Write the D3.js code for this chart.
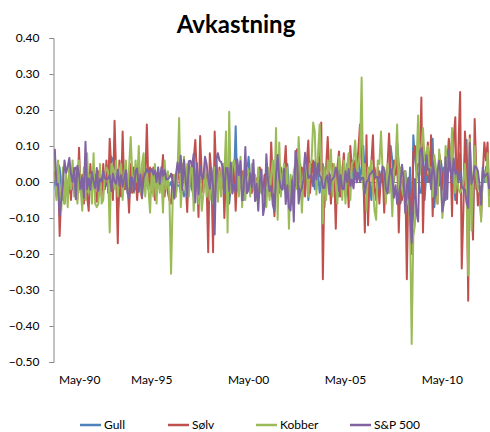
<!DOCTYPE html>
<html>
<head>
<meta charset="utf-8">
<script src="https://cdn.jsdelivr.net/npm/d3@7/dist/d3.min.js"></script>
<style>
  html, body { margin: 0; padding: 0; background: #fff; }
  svg { display: block; }
  text { font-family: Lato, "Open Sans", "Liberation Sans", sans-serif; fill: #000; }
</style>
</head>
<body>
<svg id="chart" width="490" height="432"></svg>
<script>
// Monthly returns, May 1990 – Oct 2012 (one row per year, May..Apr)
const startYear = 1990, startMonth = 4; // May
const tickLabels = ["May-90", "May-95", "May-00", "May-05", "May-10"];
const yTicks = [0.40, 0.30, 0.20, 0.10, 0.00, -0.10, -0.20, -0.30, -0.40, -0.50];
const seriesNames = ["Gull", "Sølv", "Kobber", "S&P 500"];

const gull = [
  0.005, -0.04, 0.05, 0.04, -0.01, -0.05, -0.02, 0.00, -0.03, -0.03, 0.00, -0.02,
  0.00, -0.01, -0.01, -0.02, 0.00, -0.01, 0.00, -0.01, -0.02, -0.02, -0.01, -0.01,
  -0.01, 0.02, 0.00, -0.04, 0.01, -0.02, -0.01, 0.00, -0.01, 0.00, 0.02, 0.07,
  0.06, 0.04, 0.03, -0.085, -0.02, 0.03, 0.00, 0.04, -0.02, -0.01, 0.03, -0.03,
  0.00, 0.01, -0.02, 0.00, 0.02, -0.01, -0.01, 0.00, -0.01, -0.01, 0.02, 0.01,
  -0.01, 0.00, -0.01, -0.01, 0.00, 0.00, 0.00, 0.01, 0.03, 0.02, -0.01, -0.01,
  0.00, -0.02, 0.01, 0.00, -0.01, -0.01, -0.02, -0.02, -0.04, -0.02, 0.03, -0.03,
  0.01, -0.02, -0.04, -0.01, 0.01, -0.05, -0.04, -0.02, 0.00, -0.01, 0.02, 0.00,
  -0.04, 0.00, -0.01, -0.04, 0.07, -0.01, 0.00, -0.02, -0.01, -0.01, -0.01, 0.00,
  -0.06, -0.01, -0.02, 0.00, 0.155, -0.02, -0.02, 0.00, -0.02, -0.05, 0.03, 0.02,
  0.07, 0.01, -0.01, 0.00, -0.03, -0.02, 0.02, 0.02, -0.02, -0.04, 0.02, 0.00,
  0.00, 0.01, -0.03, 0.06, 0.04, -0.02, -0.01, 0.00, 0.00, 0.01, 0.04, 0.01,
  0.05, -0.02, -0.04, 0.01, 0.02, -0.01, 0.09, 0.00, 0.05, -0.05, -0.02, 0.00,
  0.06, -0.05, 0.00, 0.05, 0.04, -0.02, 0.05, 0.03, -0.03, 0.00, 0.05, -0.07,
  0.02, 0.00, 0.00, 0.02, 0.01, 0.03, 0.04, -0.02, -0.04, 0.02, 0.00, 0.00,
  -0.04, 0.05, -0.01, 0.00, 0.06, 0.00, 0.06, 0.04, 0.08, 0.00, 0.04, 0.10,
  0.03, -0.04, 0.00, 0.00, -0.05, 0.02, 0.04, 0.01, 0.00, 0.03, 0.00, 0.02,
  -0.03, -0.01, 0.00, 0.00, 0.10, 0.06, 0.00, 0.05, 0.11, 0.05, -0.06, -0.04,
  0.00, 0.03, 0.00, -0.09, 0.04, -0.19, 0.13, 0.07, 0.03, 0.02, -0.03, -0.03,
  0.09, -0.05, 0.02, 0.00, 0.06, 0.04, 0.12, -0.07, -0.01, 0.03, -0.01, 0.06,
  0.03, -0.05, -0.05, 0.05, 0.05, 0.03, 0.02, 0.02, -0.05, 0.06, 0.01, 0.08,
  -0.01, -0.02, 0.08, 0.117, -0.11, 0.05, 0.02, -0.10, 0.10, -0.02, -0.02, -0.01,
  -0.06, 0.02, 0.00, 0.04, 0.05, -0.03
];

const solv = [
  0.03, -0.02, 0.04, -0.15, -0.03, 0.02, -0.06, 0.01, -0.04, 0.03, -0.05, 0.02,
  -0.02, 0.04, -0.05, 0.095, -0.03, 0.02, -0.06, 0.03, -0.04, -0.08, 0.05, -0.03,
  0.02, -0.03, -0.055, 0.03, 0.02, -0.04, 0.05, -0.02, 0.06, -0.03, 0.12, 0.04,
  -0.05, 0.17, 0.02, -0.17, 0.06, -0.04, 0.14, -0.02, 0.03, 0.00, -0.085, 0.05,
  -0.03, 0.04, 0.02, -0.05, 0.03, -0.02, -0.045, 0.05, 0.00, 0.16, -0.02, 0.04,
  -0.03, 0.04, -0.05, 0.02, 0.03, -0.02, 0.01, 0.075, -0.04, 0.02, -0.03, -0.05,
  -0.06, 0.02, 0.00, -0.04, 0.03, 0.01, -0.03, 0.05, 0.02, 0.00, -0.083, 0.05,
  0.03, -0.02, 0.06, 0.117, 0.02, -0.097, 0.128, 0.02, -0.03, 0.04, 0.00, -0.195,
  0.08, 0.02, -0.195, 0.14, 0.02, -0.03, 0.04, -0.02, 0.05, -0.10, 0.03, 0.01,
  -0.04, 0.03, 0.00, 0.06, -0.08, 0.02, -0.03, 0.00, 0.03, -0.02, 0.01, -0.03,
  0.00, 0.02, -0.03, 0.02, -0.02, 0.01, -0.04, 0.04, -0.02, -0.03, 0.02, -0.01,
  0.02, -0.04, 0.11, 0.00, -0.095, 0.03, 0.02, -0.03, 0.04, -0.02, 0.03, 0.10,
  -0.02, -0.01, -0.06, 0.01, -0.04, 0.02, 0.09, -0.02, -0.03, 0.04, 0.02, -0.04,
  0.05, 0.115, -0.03, 0.02, 0.06, 0.04, -0.02, 0.07, 0.03, 0.165, -0.27, 0.02,
  0.04, 0.125, 0.02, -0.06, 0.05, 0.03, -0.13, 0.04, 0.085, -0.04, 0.02, 0.08,
  -0.03, 0.02, -0.07, 0.10, 0.03, 0.06, 0.04, 0.02, 0.09, 0.16, 0.05, 0.03,
  -0.14, 0.13, -0.12, 0.03, 0.05, 0.13, -0.02, -0.05, 0.04, -0.06, 0.02, 0.03,
  -0.085, 0.02, 0.04, 0.135, 0.03, -0.05, 0.06, 0.02, 0.08, -0.14, 0.00, -0.05,
  0.02, 0.03, -0.27, 0.00, -0.05, -0.20, 0.08, 0.10, 0.03, 0.05, 0.05, 0.235,
  -0.14, 0.04, 0.02, 0.11, 0.00, 0.13, -0.095, 0.04, 0.02, -0.06, 0.08, 0.05,
  -0.02, 0.04, 0.00, 0.05, 0.12, 0.08, -0.095, 0.12, 0.18, -0.06, 0.10, 0.25,
  -0.24, -0.08, 0.14, 0.05, -0.33, 0.13, -0.06, -0.16, 0.175, 0.035, -0.065, -0.03,
  -0.10, 0.02, 0.11, 0.06, 0.11, -0.04
];

const kobber = [
  0.075, -0.05, 0.06, -0.03, -0.08, 0.04, -0.06, 0.02, -0.07, 0.05, -0.02, 0.06,
  -0.04, 0.03, -0.06, 0.06, -0.02, -0.08, 0.04, -0.05, 0.08, -0.03, 0.02, -0.06,
  0.08, -0.06, -0.07, -0.06, 0.05, -0.06, -0.05, 0.02, 0.04, 0.03, -0.14, 0.05,
  0.04, -0.02, 0.06, -0.04, 0.03, 0.05, -0.05, 0.02, 0.06, -0.03, 0.04, 0.125,
  0.02, -0.03, 0.06, 0.00, 0.10, -0.03, 0.05, 0.08, -0.04, 0.03, -0.02, -0.085,
  0.03, -0.04, 0.05, -0.06, 0.04, -0.03, 0.02, -0.085, 0.06, -0.02, 0.03, -0.05,
  -0.255, -0.05, 0.02, -0.04, 0.03, 0.178, -0.07, 0.00, 0.07, -0.03, 0.05, -0.04,
  0.03, 0.05, -0.08, 0.02, 0.04, -0.06, 0.01, -0.08, -0.03, 0.05, -0.04, 0.02,
  -0.05, 0.03, -0.06, 0.04, 0.02, -0.055, 0.03, -0.04, 0.05, 0.02, 0.14, -0.14,
  0.195, -0.03, 0.05, 0.06, 0.02, 0.05, -0.04, 0.07, -0.07, 0.03, -0.05, 0.04,
  0.03, -0.04, 0.05, -0.02, 0.02, -0.05, 0.04, -0.03, 0.00, -0.04, -0.06, -0.07,
  0.04, -0.05, 0.02, 0.06, -0.03, 0.15, -0.105, 0.11, -0.04, 0.02, 0.05, -0.03,
  0.04, -0.13, 0.02, -0.06, 0.03, 0.05, -0.02, 0.125, 0.03, -0.085, 0.02, 0.075,
  0.03, -0.04, 0.05, 0.06, 0.165, 0.14, -0.035, 0.08, 0.16, 0.05, -0.115, 0.04,
  -0.05, 0.06, 0.03, 0.09, -0.04, 0.05, 0.00, -0.06, 0.07, 0.04, -0.05, 0.06,
  -0.06, 0.04, 0.08, -0.05, 0.05, 0.06, 0.115, 0.03, 0.05, 0.08, 0.29, -0.02,
  0.05, -0.08, 0.04, 0.02, 0.06, -0.02, -0.08, -0.105, 0.06, 0.05, 0.14, 0.03,
  0.04, -0.06, 0.05, -0.03, 0.02, -0.095, 0.03, 0.05, 0.16, -0.03, 0.04, -0.02,
  -0.04, 0.03, -0.06, -0.05, -0.12, -0.45, -0.15, -0.12, 0.05, 0.185, 0.02, 0.10,
  0.15, 0.06, 0.08, 0.10, 0.02, 0.04, -0.04, 0.075, 0.04, -0.06, 0.09, 0.02,
  -0.10, -0.04, 0.10, 0.04, 0.07, 0.04, 0.15, 0.02, -0.03, 0.03, -0.02, -0.03,
  -0.02, 0.00, 0.05, -0.04, -0.26, 0.12, -0.135, 0.00, 0.10, 0.02, -0.02, -0.01,
  -0.11, 0.03, 0.03, 0.00, 0.08, -0.07
];

const sp500 = [
  0.092, -0.009, -0.005, -0.094, -0.051, -0.007, 0.060, 0.025, 0.042, 0.067, 0.022, 0.000,
  0.039, -0.048, 0.045, 0.020, -0.019, 0.012, -0.044, 0.112, -0.020, 0.010, -0.022, 0.028,
  0.001, -0.017, 0.039, -0.024, 0.009, 0.002, 0.030, 0.010, 0.007, 0.010, 0.019, -0.025,
  0.023, 0.001, -0.005, 0.034, -0.010, 0.019, -0.013, 0.010, 0.033, -0.030, -0.046, 0.012,
  0.012, -0.027, 0.031, 0.038, -0.027, 0.021, -0.040, 0.012, 0.024, 0.036, 0.027, 0.028,
  0.036, 0.021, 0.032, 0.000, 0.040, -0.005, 0.041, 0.017, 0.033, 0.007, 0.008, 0.013,
  0.023, 0.002, -0.046, 0.019, 0.054, 0.026, 0.073, -0.022, 0.061, 0.006, -0.043, 0.058,
  0.059, 0.043, 0.078, -0.057, 0.053, -0.034, 0.045, 0.016, 0.010, 0.070, 0.050, 0.009,
  -0.019, 0.039, -0.012, -0.146, 0.062, 0.080, 0.059, 0.056, 0.041, -0.032, 0.039, 0.038,
  -0.025, 0.054, -0.032, -0.006, -0.029, 0.063, 0.019, 0.058, -0.051, -0.020, 0.097, -0.031,
  -0.022, 0.024, -0.016, 0.061, -0.053, -0.005, -0.080, 0.004, 0.035, -0.092, -0.064, 0.077,
  0.005, -0.025, -0.011, -0.064, -0.082, 0.018, 0.075, 0.008, -0.016, -0.021, 0.037, -0.061,
  -0.009, -0.072, -0.079, 0.005, -0.110, 0.086, 0.057, -0.060, -0.027, -0.017, 0.008, 0.081,
  0.051, 0.011, 0.016, 0.018, -0.012, 0.055, 0.007, 0.051, 0.017, 0.012, -0.016, -0.017,
  0.012, 0.018, -0.034, 0.002, 0.009, 0.014, 0.039, 0.032, -0.025, 0.019, -0.019, -0.020,
  0.030, 0.000, 0.036, -0.011, 0.007, -0.018, 0.035, -0.001, 0.025, 0.000, 0.011, 0.012,
  -0.031, 0.000, 0.005, 0.021, 0.025, 0.032, 0.016, 0.013, 0.014, -0.022, 0.010, 0.043,
  0.033, -0.018, -0.032, 0.013, 0.036, 0.015, -0.044, -0.009, -0.061, -0.035, -0.006, 0.048,
  0.011, -0.086, -0.010, 0.012, -0.091, -0.169, -0.075, 0.008, -0.086, -0.110, 0.085, 0.094,
  0.053, 0.000, 0.074, 0.034, 0.036, -0.020, 0.057, 0.018, -0.037, 0.029, 0.059, 0.015,
  -0.082, -0.054, 0.069, -0.047, 0.088, 0.037, -0.002, 0.065, 0.023, 0.032, -0.001, 0.028,
  -0.014, -0.018, -0.021, -0.057, -0.072, 0.108, -0.005, 0.009, 0.044, 0.041, 0.031, -0.007,
  -0.063, 0.040, 0.013, 0.020, 0.024, -0.020
];

const colors = ["#4F81BD", "#C0504D", "#9BBB59", "#8064A2"];
const allSeries = [gull, solv, kobber, sp500];

// Month categories "May-90", "Jun-90", ...
const monNames = ["Jan","Feb","Mar","Apr","May","Jun","Jul","Aug","Sep","Oct","Nov","Dec"];
const categories = gull.map((_, i) => {
  const m = startMonth + i;
  const yr = startYear + Math.floor(m / 12);
  return monNames[m % 12] + "-" + String(yr % 100).padStart(2, "0");
});

const W = 490, H = 432;
const plot = { left: 54, right: 490, top: 38, bottom: 362 };

const svg = d3.select("#chart");
svg.append("rect").attr("width", W).attr("height", H).attr("fill", "#fff");

const x = d3.scalePoint().domain(categories).range([plot.left, plot.right]).padding(0.5);
const y = d3.scaleLinear().domain([-0.5, 0.4]).range([plot.bottom, plot.top]);

// Title
svg.append("text")
  .attr("x", 236).attr("y", 33)
  .attr("text-anchor", "middle")
  .style("font-size", "24px").style("font-weight", "bold")
  .text("Avkastning");

// Vertical axis
const yAxis = d3.axisLeft(y).tickValues(yTicks).tickSize(4).tickPadding(10)
  .tickFormat(d3.format(".2f"));
const gy = svg.append("g").attr("transform", `translate(${plot.left - 0.5},0)`).call(yAxis);
gy.select(".domain").attr("stroke", "#868686");
gy.selectAll(".tick line").attr("stroke", "#868686");
gy.selectAll(".tick text").style("font-size", "12px").style("font-family", "Lato, sans-serif").attr("fill", "#000");

// Horizontal axis line at zero
svg.append("line")
  .attr("x1", plot.left).attr("x2", plot.right)
  .attr("y1", Math.round(y(0)) + 0.5).attr("y2", Math.round(y(0)) + 0.5)
  .attr("stroke", "#868686");

// Category labels at the bottom
const gx = svg.append("g");
gx.selectAll("text").data(tickLabels).join("text")
  .attr("x", (d, i) => i === 0 ? plot.left + 5 : x(d))
  .attr("y", 384)
  .attr("text-anchor", (d, i) => i === 0 ? "start" : "middle")
  .style("font-size", "12px")
  .text(d => d);

// Series lines
const line = d3.line()
  .x((d, i) => x(categories[i]))
  .y(d => y(d));

svg.append("defs").append("clipPath").attr("id", "plotClip")
  .append("rect").attr("x", plot.left).attr("y", 0).attr("width", plot.right - plot.left).attr("height", H);

const gLines = svg.append("g").attr("clip-path", "url(#plotClip)");
allSeries.forEach((s, k) => {
  gLines.append("path")
    .datum(s)
    .attr("fill", "none")
    .attr("stroke", colors[k])
    .attr("stroke-width", 2)
    .attr("stroke-linejoin", "round")
    .attr("d", line);
});

// Legend
const legendX = [80, 168, 256, 350];
const legend = svg.append("g");
seriesNames.forEach((name, k) => {
  legend.append("line")
    .attr("x1", legendX[k]).attr("x2", legendX[k] + 21)
    .attr("y1", 425).attr("y2", 425)
    .attr("stroke", colors[k]).attr("stroke-width", 2.5);
  legend.append("text")
    .attr("x", legendX[k] + 24).attr("y", 429)
    .style("font-size", "12px")
    .text(name);
});
</script>
</body>
</html>
